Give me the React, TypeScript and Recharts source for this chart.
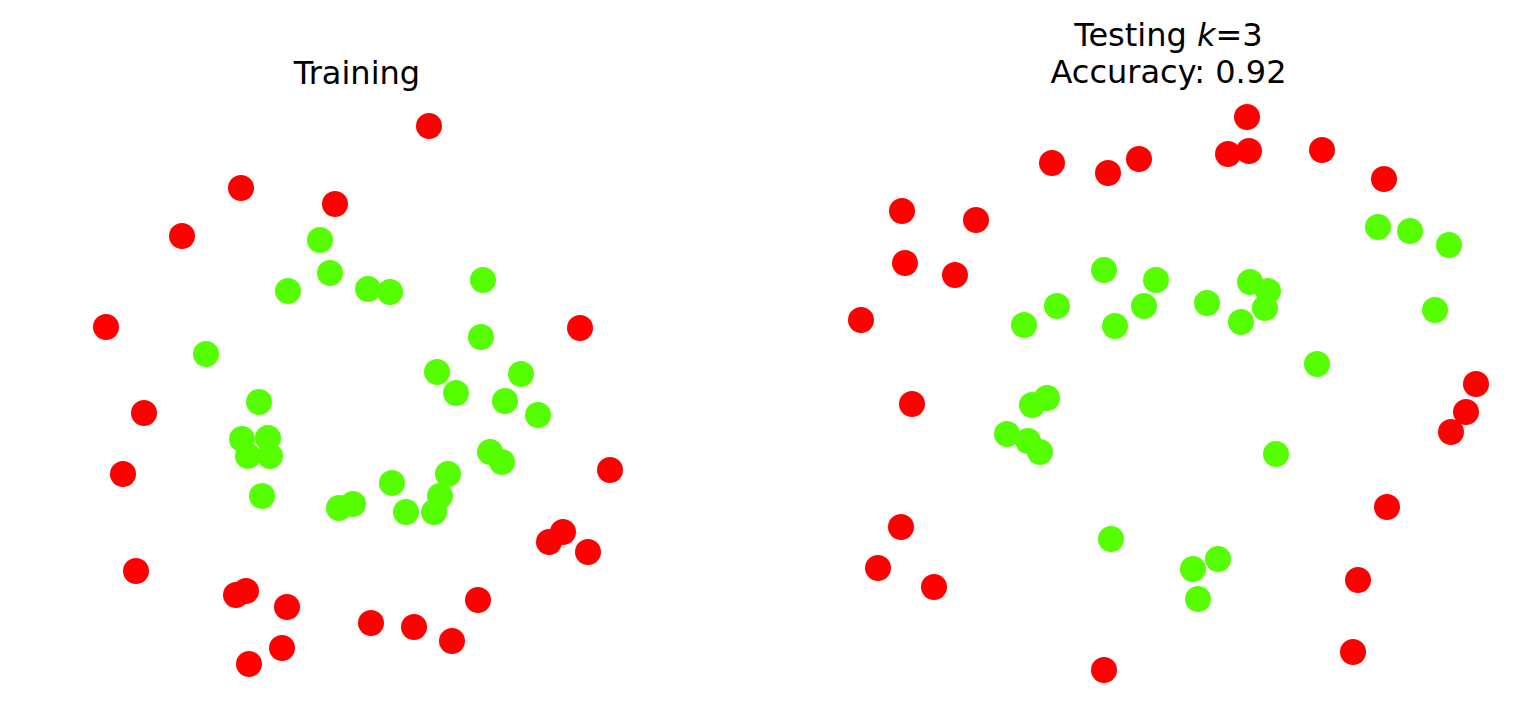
import { Scatter, ScatterChart, XAxis, YAxis } from 'recharts'

type Pt = [number, number]

// training set (x, y)
const trainRed: Pt[] = [
  [0.286, 1.074], [-0.466, 0.826], [-0.09, 0.762], [-0.702, 0.634], [-1.006, 0.27],
  [0.89, 0.266], [-0.854, -0.074], [-0.938, -0.318], [1.01, -0.302], [0.822, -0.55],
  [0.766, -0.59], [0.922, -0.63], [-0.886, -0.706], [-0.486, -0.802], [-0.446, -0.786],
  [-0.282, -0.85], [0.482, -0.822], [0.054, -0.914], [0.226, -0.93], [0.378, -0.986],
  [-0.302, -1.014], [-0.434, -1.078],
]
const trainGreen: Pt[] = [
  [-0.15, 0.618], [-0.11, 0.486], [-0.278, 0.414], [0.042, 0.422], [0.13, 0.41],
  [0.502, 0.458], [0.494, 0.23], [-0.606, 0.162], [0.318, 0.09], [0.654, 0.082],
  [0.394, 0.006], [0.59, -0.026], [0.722, -0.082], [-0.394, -0.03], [-0.462, -0.178],
  [-0.358, -0.174], [-0.438, -0.246], [-0.35, -0.246], [0.53, -0.23], [0.578, -0.27],
  [0.362, -0.318], [0.138, -0.354], [0.33, -0.406], [-0.382, -0.406], [-0.074, -0.454],
  [-0.018, -0.438], [0.194, -0.47], [0.306, -0.47],
]

// test set, coloured by predicted class
const testRed: Pt[] = [
  [0.314, 1.106], [-0.466, 0.922], [-0.242, 0.882], [-0.118, 0.938], [0.238, 0.958],
  [0.322, 0.97], [0.614, 0.974], [0.862, 0.858], [-1.066, 0.73], [-0.77, 0.694],
  [-1.054, 0.522], [-0.854, 0.474], [-1.23, 0.294], [-1.026, -0.042], [1.23, 0.038],
  [1.19, -0.074], [1.13, -0.154], [0.874, -0.454], [-1.07, -0.534], [-1.162, -0.698],
  [-0.938, -0.774], [0.758, -0.746], [0.738, -1.034], [-0.258, -1.106],
]
const testGreen: Pt[] = [
  [0.838, 0.666], [0.966, 0.65], [1.122, 0.594], [1.066, 0.334], [-0.258, 0.494],
  [-0.05, 0.454], [-0.446, 0.35], [-0.098, 0.35], [-0.578, 0.274], [-0.214, 0.27],
  [0.154, 0.362], [0.326, 0.446], [0.398, 0.41], [0.386, 0.342], [0.29, 0.286],
  [0.594, 0.118], [-0.486, -0.018], [-0.546, -0.046], [-0.646, -0.162], [-0.562, -0.19],
  [-0.514, -0.234], [0.43, -0.242], [-0.23, -0.582], [0.098, -0.702], [0.198, -0.662],
  [0.118, -0.822],
]

const RED = '#ff0000'
const GREEN = '#55ff00'

const toRows = (pts: Pt[]) => pts.map(([x, y]) => ({ x, y }))

const dot = (color: string) => (p: any) => <circle cx={p.cx} cy={p.cy} r={13} fill={color} />

interface PanelProps {
  left: number
  red: Pt[]
  green: Pt[]
  xDomain: [number, number]
  yDomain: [number, number]
  margin: { top: number; right: number; bottom: number; left: number }
}

function Panel({ left, red, green, xDomain, yDomain, margin }: PanelProps) {
  return (
    <div style={{ position: 'absolute', left, top: 0 }}>
      <ScatterChart width={763} height={709} margin={margin}>
        <XAxis type="number" dataKey="x" domain={xDomain} hide allowDataOverflow />
        <YAxis type="number" dataKey="y" domain={yDomain} hide allowDataOverflow />
        <Scatter data={toRows(red)} shape={dot(RED)} isAnimationActive={false} />
        <Scatter data={toRows(green)} shape={dot(GREEN)} isAnimationActive={false} />
      </ScatterChart>
    </div>
  )
}

export default function App() {
  const font = { fontFamily: 'DejaVu Sans', fontSize: 32, fill: '#000' }
  return (
    <div style={{ position: 'absolute', left: 0, top: 0, width: 1526, height: 709, background: '#fff' }}>
      <Panel
        left={0}
        red={trainRed}
        green={trainGreen}
        xDomain={[-1.106, 1.106]}
        yDomain={[-1.182, 1.182]}
        margin={{ top: 99, right: 129, bottom: 19, left: 81 }}
      />
      <Panel
        left={763}
        red={testRed}
        green={testGreen}
        xDomain={[-1.354, 1.354]}
        yDomain={[-1.218, 1.218]}
        margin={{ top: 89, right: 19, bottom: 11, left: 67 }}
      />
      <svg width={1526} height={709} style={{ position: 'absolute', left: 0, top: 0, pointerEvents: 'none' }}>
        <text x={357} y={84} textAnchor="middle" {...font}>Training</text>
        <text x={1168.5} y={46} textAnchor="middle" {...font}>
          Testing <tspan fontStyle="italic">k</tspan>=3
        </text>
        <text x={1168.5} y={83} textAnchor="middle" {...font}>Accuracy: 0.92</text>
      </svg>
    </div>
  )
}
